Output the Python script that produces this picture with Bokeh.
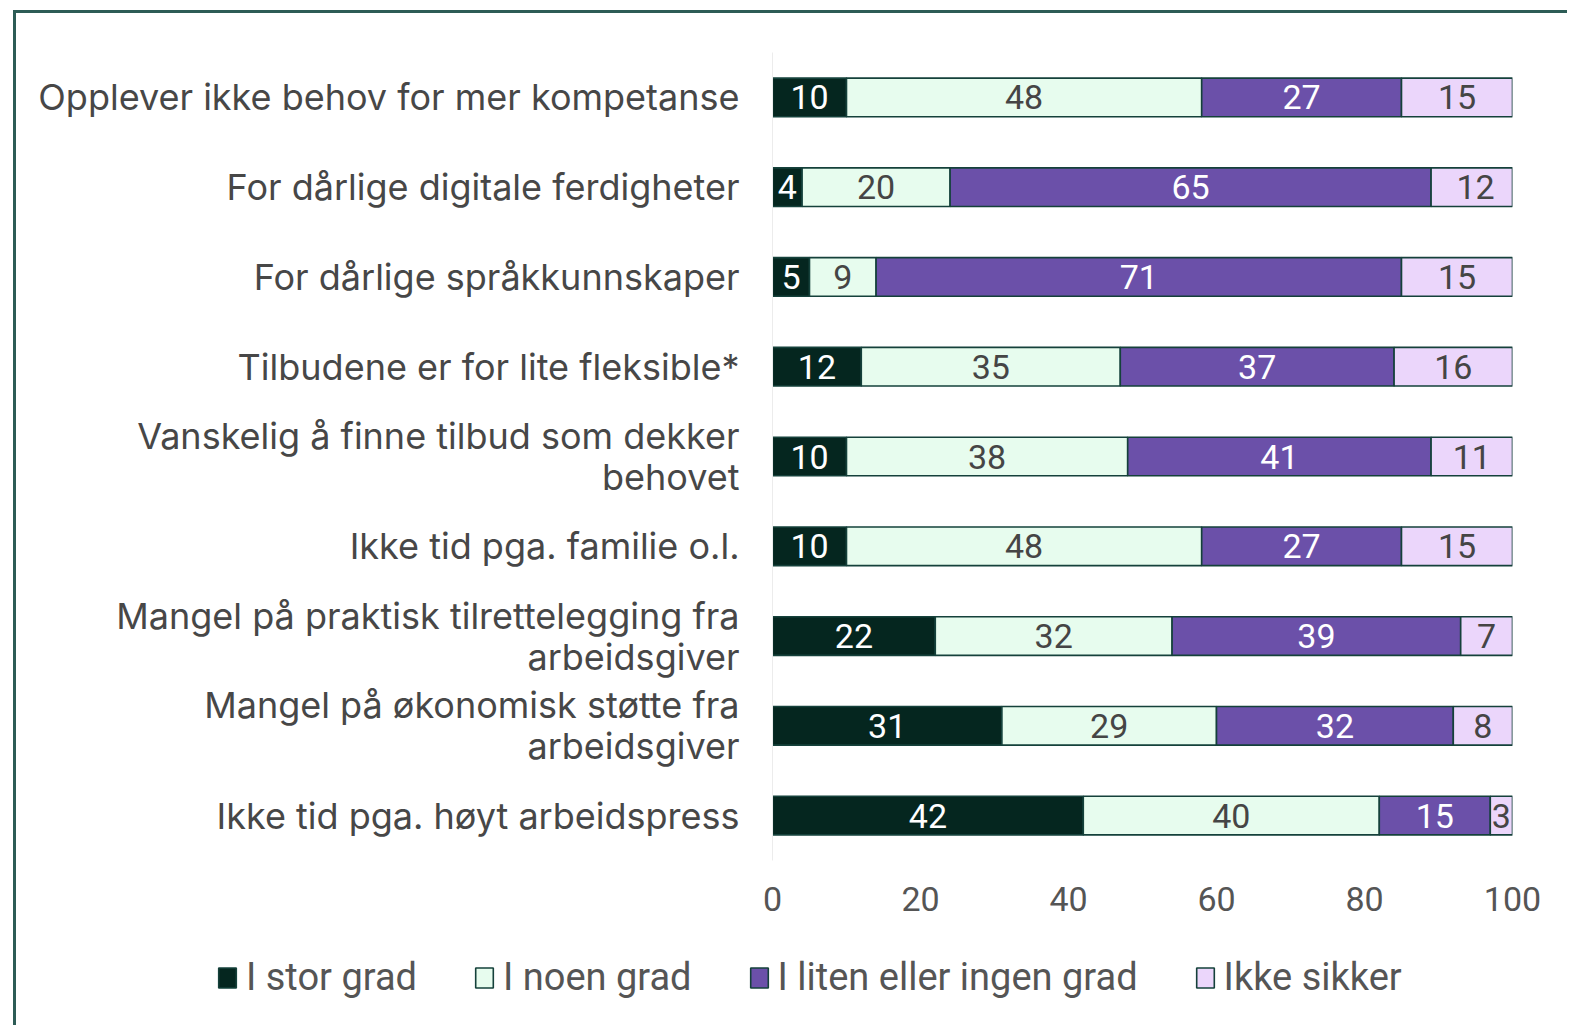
from bokeh.plotting import figure
from bokeh.layouts import column
from bokeh.models import ColumnDataSource, FactorRange, Legend, LegendItem, Range1d, FixedTicker
from bokeh.core.properties import value
from bokeh.embed import file_html
from bokeh.resources import INLINE

categories = [
    "Opplever ikke behov for mer kompetanse",
    "For dårlige digitale ferdigheter",
    "For dårlige språkkunnskaper",
    "Tilbudene er for lite fleksible*",
    "Vanskelig å finne tilbud som dekker\nbehovet",
    "Ikke tid pga. familie o.l.",
    "Mangel på praktisk tilrettelegging fra\narbeidsgiver",
    "Mangel på økonomisk støtte fra\narbeidsgiver",
    "Ikke tid pga. høyt arbeidspress",
]
stor_grad = [10, 4, 5, 12, 10, 10, 22, 31, 42]
noen_grad = [48, 20, 9, 35, 38, 48, 32, 29, 40]
liten_grad = [27, 65, 71, 37, 41, 27, 39, 32, 15]
ikke_sikker = [15, 12, 15, 16, 11, 15, 7, 8, 3]
series_names = ["I stor grad", "I noen grad", "I liten eller ingen grad", "Ikke sikker"]
x_ticks = [0, 20, 40, 60, 80, 100]

colors = ["#05261f", "#e7fcee", "#6b50a9", "#ebd6fb"]
label_colors = ["#ffffff", "#454545", "#ffffff", "#454545"]
series = [stor_grad, noen_grad, liten_grad, ikke_sikker]
BORDER = "3px solid #2d5c56"
OUTLINE = "#15413b"

p = figure(
    width=1554, height=922,
    x_range=Range1d(0, 100),
    y_range=FactorRange(factors=list(reversed(categories))),
    output_backend="svg", toolbar_location=None,
    min_border_left=756, min_border_right=58, min_border_top=39, min_border_bottom=75,
)
p.margin = (10, 0, 0, 13)
p.styles = {"border-left": BORDER, "border-top": BORDER}
p.outline_line_color = None
p.xgrid.grid_line_color = None
p.ygrid.grid_line_color = None

lefts = [0] * len(categories)
txt_x, txt_y, txt_t, txt_c = [], [], [], []
for name, vals, col, lc in zip(series_names, series, colors, label_colors):
    rights = [l + v for l, v in zip(lefts, vals)]
    src = ColumnDataSource(dict(y=categories, left=lefts, right=rights))
    p.hbar(y="y", left="left", right="right", height=0.43, source=src,
           fill_color=col, line_color=OUTLINE, line_width=1.6)
    for c, l, v in zip(categories, lefts, vals):
        txt_x.append(l + v / 2)
        txt_y.append(c)
        txt_t.append(str(v))
        txt_c.append(lc)
    lefts = rights

tsrc = ColumnDataSource(dict(x=txt_x, y=txt_y, t=txt_t, c=txt_c))
p.text(x="x", y="y", text="t", source=tsrc, text_color="c",
       text_align="center", text_baseline="middle",
       text_font=value("Roboto"), text_font_size="34px")

xa = p.xaxis[0]
xa.ticker = FixedTicker(ticks=x_ticks)
xa.axis_line_color = None
xa.major_tick_line_color = None
xa.minor_tick_line_color = None
xa.major_label_text_font = "Roboto"
xa.major_label_text_font_size = "34px"
xa.major_label_text_color = "#555555"
xa.major_label_standoff = 20

ya = p.yaxis[0]
ya.axis_line_color = "#ececec"
ya.axis_line_width = 1
ya.major_tick_line_color = None
ya.minor_tick_line_color = None
ya.major_label_text_font = "Inter"
ya.major_label_text_font_size = "36px"
ya.major_label_text_color = "#474747"
ya.major_label_text_line_height = 0.93
ya.major_label_standoff = 27

# legend strip below the chart (its frame spans the whole strip)
lg = figure(width=1554, height=93, x_range=Range1d(0, 1), y_range=Range1d(0, 1),
            output_backend="svg", toolbar_location=None,
            min_border_left=0, min_border_right=0, min_border_top=0, min_border_bottom=0)
lg.frame_align = False
lg.margin = (0, 0, 0, 13)
lg.styles = {"border-left": BORDER}
lg.axis.visible = False
lg.grid.grid_line_color = None
lg.outline_line_color = None
items = []
for name, col in zip(series_names, colors):
    # swatch-only renderer (hidden), used just for its legend entry
    r = lg.hbar(y=[0.5], left=[0], right=[1], height=0.5, fill_color=col,
                line_color=OUTLINE, line_width=1.6, visible=False)
    items.append(LegendItem(label=name, renderers=[r]))
legend = Legend(items=items, orientation="horizontal", location=(200, 26),
                glyph_width=22, glyph_height=25, label_standoff=8, spacing=56,
                padding=0, margin=0, border_line_color=None, background_fill_alpha=0,
                inactive_fill_alpha=0,
                label_text_font="Roboto", label_text_font_size="38px",
                label_text_color="#555555")
lg.add_layout(legend, "center")

layout = column(p, lg, spacing=0)
open("out.html", "w").write(file_html(layout, INLINE))
